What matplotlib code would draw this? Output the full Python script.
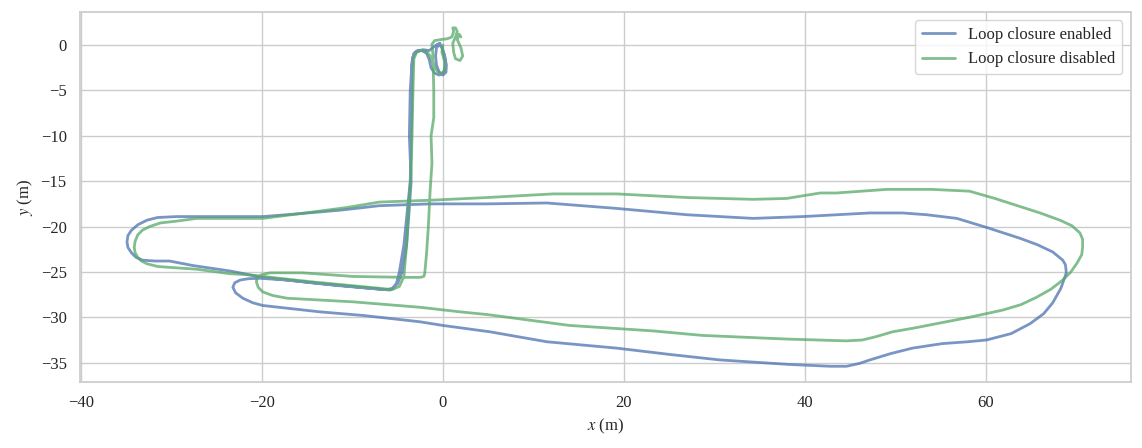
import numpy as np
import matplotlib
matplotlib.use("Agg")
import matplotlib.pyplot as plt
import seaborn as sns

# trajectory with loop closure, (x, y) in metres
enabled_xy = [
    (-0.3, 0.2), (-0.7, -0.3), (-0.8, -1.2), (-0.7, -2.2), (-0.4, -3.0), (0.0, -3.3),
    (0.35, -3.0), (0.4, -2.2), (0.2, -1.2), (-0.1, -0.2), (-0.6, 0.1), (-1.0, -0.2),
    (-1.5, -0.6), (-2.2, -0.5), (-2.9, -0.7), (-3.3, -1.3), (-3.4, -2.2),
    (-3.4, -5.0), (-3.5, -10.0), (-3.6, -15.0), (-3.9, -18.0), (-4.3, -22.0), (-4.8, -25.0),
    (-5.1, -26.2), (-5.5, -26.8), (-6.2, -26.95), (-7.0, -26.9), (-11.7, -26.5),
    (-17.2, -25.9), (-20.2, -25.7), (-21.5, -25.75), (-22.4, -25.9), (-23.0, -26.2),
    (-23.2, -26.7), (-22.9, -27.3), (-22.1, -27.9), (-21.0, -28.4), (-19.9, -28.7),
    (-13.6, -29.4), (-8.8, -29.8), (-2.5, -30.5), (0.0, -30.9), (5.2, -31.6), (11.5, -32.7),
    (19.2, -33.4), (25.1, -34.1), (30.6, -34.7), (38.3, -35.2), (42.8, -35.4), (44.6, -35.4),
    (46.0, -35.1), (47.2, -34.7), (49.5, -34.0), (51.9, -33.4), (55.2, -32.9), (58.0, -32.7),
    (60.1, -32.5), (62.8, -31.8), (64.9, -30.7), (66.4, -29.6), (67.4, -28.4), (68.3, -26.8),
    (68.9, -25.1), (68.8, -24.2), (68.5, -23.7), (67.4, -22.8), (65.7, -22.0), (63.8, -21.3),
    (60.1, -20.1), (56.8, -19.1), (53.5, -18.7), (50.8, -18.5), (47.2, -18.5), (43.5, -18.7),
    (39.8, -18.9), (34.3, -19.1), (27.0, -18.7), (19.2, -18.0), (11.5, -17.4), (4.9, -17.5),
    (-1.4, -17.5), (-7.0, -17.7), (-11.4, -18.2), (-16.1, -18.6), (-19.9, -18.9),
    (-23.5, -18.9), (-29.4, -18.9), (-31.5, -19.0), (-32.7, -19.3), (-33.7, -19.8),
    (-34.4, -20.4), (-34.8, -21.0), (-34.9, -21.7), (-34.8, -22.3), (-34.4, -22.9),
    (-33.9, -23.4), (-33.2, -23.7), (-31.8, -23.8), (-30.2, -23.8), (-27.6, -24.3),
    (-23.5, -24.9), (-19.9, -25.6), (-14.4, -26.2), (-7.0, -26.9), (-5.8, -27.0),
    (-5.0, -26.3), (-4.5, -25.0), (-4.0, -22.0), (-3.7, -18.0), (-3.5, -15.0), (-3.7, -10.0),
    (-3.6, -5.0), (-3.4, -1.8), (-3.2, -0.9), (-2.8, -0.6), (-2.3, -0.6), (-1.8, -0.9),
    (-1.5, -1.6), (-1.3, -2.5), (-0.9, -3.1), (-0.4, -3.3), (0.1, -3.0), (0.3, -2.2),
    (0.2, -1.2), (-0.1, -0.3), (-0.4, 0.2),
]

# trajectory without loop closure, (x, y) in metres
disabled_xy = [
    (2.0, 0.9), (1.8, 1.2), (1.6, 0.6), (2.0, -0.3), (2.2, -1.2), (1.9, -1.7), (1.4, -1.5),
    (1.2, -0.8), (1.1, 0.2), (1.4, 0.9), (1.6, 1.5), (1.4, 1.9), (1.1, 1.9), (1.2, 1.5),
    (1.0, 0.9), (0.5, 0.7), (-0.3, 0.6), (-0.9, 0.5), (-1.2, 0.1), (-1.1, -1.0),
    (-1.0, -5.0), (-1.0, -8.0), (-1.3, -10.0), (-1.2, -13.0), (-1.4, -16.0), (-1.6, -20.0),
    (-1.8, -23.0), (-2.0, -25.2), (-2.1, -25.5), (-2.5, -25.6), (-4.0, -25.6),
    (-9.9, -25.5), (-15.5, -25.1), (-19.1, -25.1), (-20.0, -25.3), (-20.5, -25.6),
    (-20.6, -26.1), (-20.4, -26.7), (-19.9, -27.2), (-18.8, -27.6), (-17.2, -27.9),
    (-9.9, -28.3), (-2.5, -28.9), (1.9, -29.4), (4.9, -29.7), (14.0, -30.9), (23.2, -31.5),
    (28.7, -32.0), (38.0, -32.4), (44.6, -32.6), (46.4, -32.5), (48.0, -32.1), (49.7, -31.6),
    (52.0, -31.2), (54.6, -30.7), (58.2, -30.0), (61.9, -29.2), (63.9, -28.6), (65.6, -27.8),
    (67.2, -26.9), (68.5, -25.9), (69.4, -25.0), (70.1, -24.0), (70.6, -23.1), (70.7, -22.3),
    (70.7, -21.4), (70.4, -20.7), (69.5, -19.9), (68.2, -19.3), (66.0, -18.5), (63.8, -17.8),
    (61.0, -16.9), (58.2, -16.1), (54.0, -15.9), (50.8, -15.9), (49.1, -15.9), (43.5, -16.3),
    (41.7, -16.3), (38.0, -16.9), (34.3, -17.0), (27.0, -16.8), (19.2, -16.4), (12.2, -16.4),
    (4.9, -16.8), (-1.4, -17.1), (-7.0, -17.3), (-10.6, -17.9), (-14.4, -18.4),
    (-19.9, -19.1), (-23.5, -19.1), (-27.2, -19.1), (-29.4, -19.4), (-31.2, -19.6),
    (-32.4, -20.0), (-33.2, -20.4), (-33.7, -20.9), (-34.0, -21.6), (-34.1, -22.3),
    (-34.0, -22.9), (-33.7, -23.4), (-33.3, -23.8), (-32.7, -24.1), (-31.5, -24.4),
    (-30.2, -24.5), (-27.2, -24.7), (-23.5, -25.2), (-21.7, -25.3), (-14.4, -26.1),
    (-7.0, -26.8), (-5.6, -26.95), (-4.8, -26.6), (-4.3, -25.5), (-4.0, -22.0),
    (-3.8, -18.0), (-3.5, -14.0), (-3.4, -10.0), (-3.3, -5.0), (-3.2, -1.5), (-2.9, -0.8),
    (-2.4, -0.6), (-1.8, -0.7), (-1.4, -1.2), (-1.0, -2.2), (-0.6, -2.9), (-0.1, -3.1),
    (0.2, -2.8), (0.2, -1.8), (-0.1, -0.8), (0.0, 0.0),
]

enabled = np.array(enabled_xy)
disabled = np.array(disabled_xy)

sns.set_theme(style="whitegrid")
plt.rcParams["font.family"] = ["Liberation Serif", "DejaVu Serif"]
plt.rcParams["mathtext.fontset"] = "stix"

fig = plt.figure(figsize=(11.42, 4.48), dpi=100)
ax = fig.add_axes([0.070, 0.147, 0.920, 0.826])

ax.plot(enabled[:, 0], enabled[:, 1], color="#4C72B0", lw=2.0, alpha=0.75,
        label="Loop closure enabled")
ax.plot(disabled[:, 0], disabled[:, 1], color="#55A868", lw=2.0, alpha=0.75,
        label="Loop closure disabled")

ax.set_xlim(-40.1, 76.0)
ax.set_ylim(-37.15, 3.64)
ax.set_xticks([-40, -20, 0, 20, 40, 60])
ax.set_yticks([0, -5, -10, -15, -20, -25, -30, -35])
ax.tick_params(labelsize=12)
ax.set_xlabel("$x$ (m)", fontsize=12)
ax.set_ylabel("$y$ (m)", fontsize=12)
ax.legend(loc="upper right", fontsize=12, frameon=True)

fig.savefig("out.png", dpi=100)
